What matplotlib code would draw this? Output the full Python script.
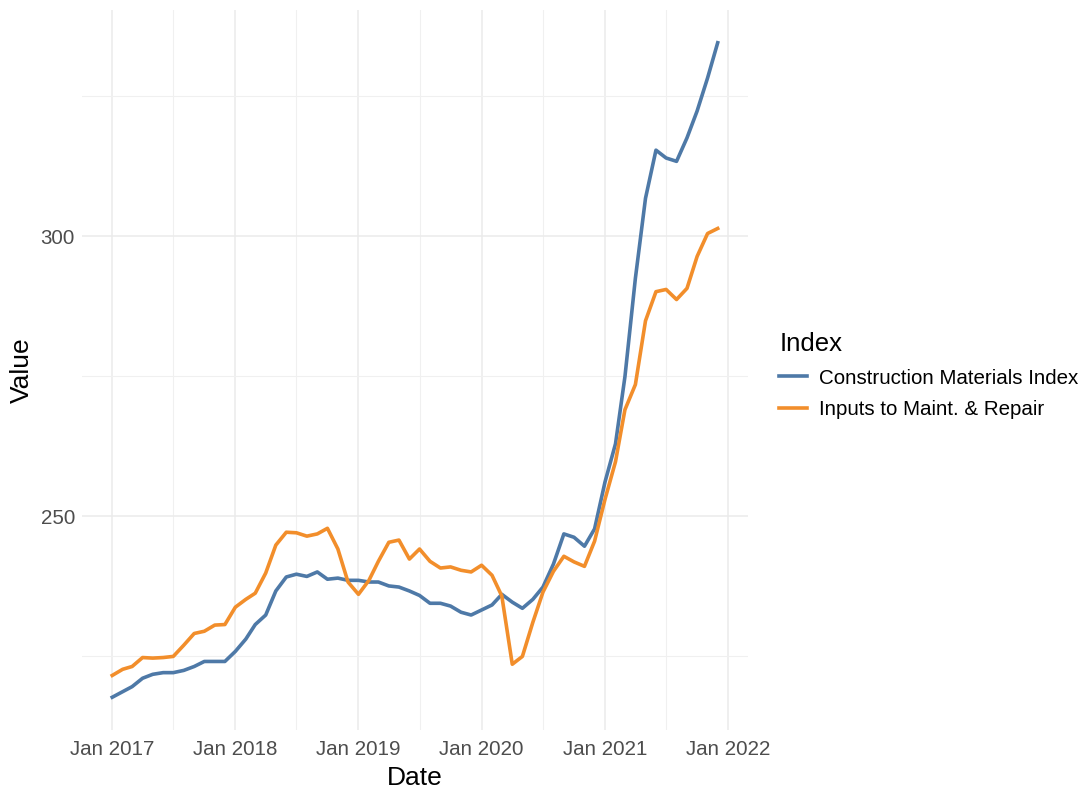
import numpy as np
import pandas as pd
import matplotlib
matplotlib.use("Agg")
import matplotlib.pyplot as plt
import matplotlib.dates as mdates

plt.rcParams['font.family'] = ['Liberation Sans', 'DejaVu Sans']

dates = pd.date_range("2017-01-01", "2021-12-01", freq="MS")

construction = [217.6, 218.6, 219.5, 221.0, 221.7, 222.0, 222.0, 222.4, 223.1, 224.0, 224.0, 224.0,
                225.8, 228.0, 230.6, 232.3, 236.6, 239.1, 239.6, 239.2, 240.0, 238.7, 238.9, 238.5,
                238.5, 238.2, 238.2, 237.5, 237.3, 236.6, 235.8, 234.4, 234.4, 233.9, 232.8, 232.3,
                233.2, 234.1, 236.0, 234.6, 233.5, 235.1, 237.3, 241.4, 246.8, 246.2, 244.6, 247.7,
                256.1, 262.9, 274.9, 292.5, 306.8, 315.4, 314.0, 313.4, 317.6, 322.4, 328.3, 334.6]

maint_repair = [221.5, 222.6, 223.1, 224.7, 224.6, 224.7, 224.9, 226.9, 229.0, 229.4, 230.5, 230.6,
                233.7, 235.1, 236.2, 239.8, 244.8, 247.1, 247.0, 246.4, 246.8, 247.8, 244.1, 238.2,
                236.0, 238.5, 241.9, 245.3, 245.7, 242.3, 244.1, 241.9, 240.7, 240.9, 240.3, 240.0,
                241.2, 239.4, 235.7, 223.5, 224.9, 231.0, 236.4, 240.1, 242.8, 241.8, 241.0, 245.5,
                253.0, 259.7, 269.0, 273.5, 284.9, 290.1, 290.5, 288.7, 290.7, 296.4, 300.5, 301.4]

series_names = ["Construction Materials Index", "Inputs to Maint. & Repair"]
colors = ["#4E79A7", "#F28E2B"]

fig = plt.figure(figsize=(10.87, 7.89), dpi=100)
ax = fig.add_axes([0.0754, 0.0748, 0.6127, 0.9125])

ax.plot(dates, construction, color=colors[0], lw=2.6, label=series_names[0])
ax.plot(dates, maint_repair, color=colors[1], lw=2.6, label=series_names[1])

# ggplot-style 5% expansion
lo, hi = min(construction + maint_repair), max(construction + maint_repair)
pad = (hi - lo) * 0.05
ax.set_ylim(lo - pad, hi + pad)
x0, x1 = mdates.date2num(dates[0]), mdates.date2num(dates[-1])
xpad = (x1 - x0) * 0.05
ax.set_xlim(x0 - xpad, x1 + xpad)

ax.set_yticks([250, 300])
ax.set_yticks([225, 275, 325], minor=True)
years = pd.date_range("2017-01-01", "2022-01-01", freq="YS")
ax.set_xticks(mdates.date2num(years))
ax.set_xticklabels([d.strftime("Jan %Y") for d in years])
ax.set_xticks(mdates.date2num(pd.date_range("2017-07-01", "2021-07-01", freq="12MS")), minor=True)

ax.grid(True, which="major", color="#EBEBEB", lw=1.1)
ax.grid(True, which="minor", color="#F0F0F0", lw=0.8)
ax.set_axisbelow(True)
for s in ax.spines.values():
    s.set_visible(False)
ax.tick_params(axis="x", which="both", length=0, labelsize=14.8, colors="#4D4D4D", pad=7)
ax.tick_params(axis="y", which="both", length=0, labelsize=14.8, colors="#4D4D4D", pad=5)

ax.set_xlabel("Date", fontsize=19, labelpad=5)
ax.set_ylabel("Value", fontsize=19, labelpad=5)

leg = ax.legend(loc="center left", bbox_to_anchor=(0.700, 0.524), bbox_transform=fig.transFigure,
                frameon=False, title="Index", fontsize=14.8, title_fontsize=18.5,
                handlelength=1.35, handletextpad=0.6, labelspacing=0.6, alignment="left")

fig.savefig("out.png", dpi=100, facecolor="white")
